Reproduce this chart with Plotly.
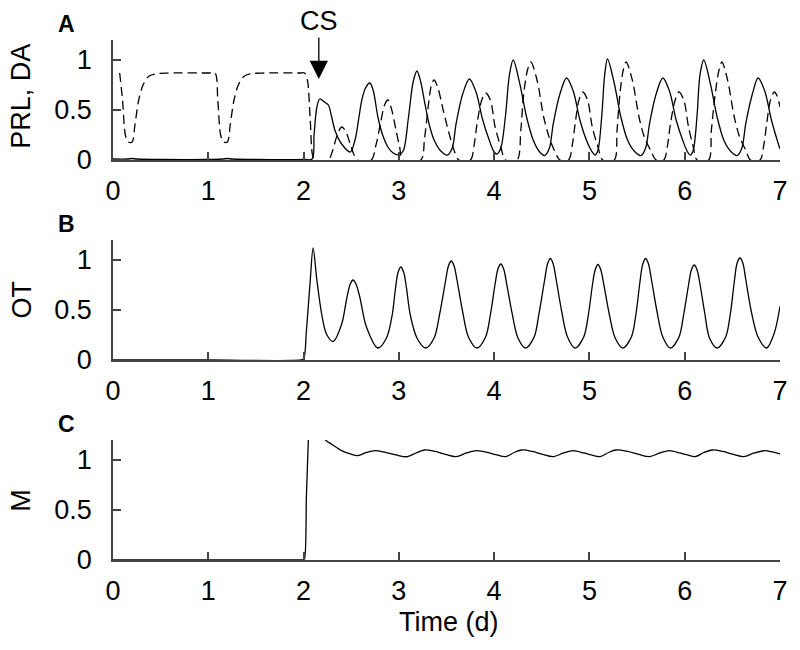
"""
Three stacked time courses: PRL/DA (A), OT (B) and M (C) over 7 days,
with the CS onset marked by an arrow in panel A.
"""

import plotly.graph_objects as go

# ---- data (time in days) ----
prl_t = [0.0, 0.15, 0.2, 0.25, 0.5, 1.0, 1.15, 1.2, 1.25, 1.5, 2.0, 2.09,
         2.11, 2.14, 2.17, 2.22, 2.26, 2.295, 2.33, 2.40, 2.49,
         2.54, 2.58, 2.61, 2.65, 2.695, 2.73, 2.78, 2.83, 2.885, 2.94, 3.01,
         3.05, 3.10, 3.15, 3.19, 3.23, 3.27, 3.32, 3.37, 3.44, 3.51,
         3.56, 3.60, 3.67, 3.74, 3.81, 3.88, 3.95, 4.00, 4.03,
         4.07, 4.12, 4.16, 4.20, 4.27, 4.34, 4.41, 4.47, 4.53,
         4.58, 4.62, 4.69, 4.76, 4.83, 4.90, 4.97, 5.03, 5.06,
         5.09, 5.13, 5.16, 5.19, 5.26, 5.33, 5.40, 5.47, 5.54,
         5.59, 5.63, 5.70, 5.77, 5.84, 5.91, 5.98, 6.03, 6.06,
         6.09, 6.13, 6.16, 6.20, 6.27, 6.34, 6.41, 6.48, 6.55,
         6.60, 6.64, 6.71, 6.77, 6.84, 6.91, 6.97, 7.0]
prl_v = [0.01, 0.01, 0.015, 0.01, 0.005, 0.005, 0.01, 0.015, 0.01, 0.005, 0.005, 0.01,
         0.25, 0.53, 0.61, 0.58, 0.55, 0.43, 0.295, 0.16, 0.08,
         0.20, 0.42, 0.595, 0.72, 0.77, 0.70, 0.43, 0.25, 0.13, 0.07, 0.055,
         0.10, 0.42, 0.78, 0.89, 0.78, 0.58, 0.35, 0.20, 0.09, 0.05,
         0.12, 0.36, 0.66, 0.81, 0.68, 0.40, 0.195, 0.08, 0.06,
         0.12, 0.45, 0.85, 1.0, 0.76, 0.43, 0.20, 0.09, 0.045,
         0.12, 0.36, 0.66, 0.82, 0.69, 0.40, 0.195, 0.08, 0.05,
         0.10, 0.45, 0.85, 1.01, 0.77, 0.43, 0.20, 0.09, 0.045,
         0.12, 0.36, 0.66, 0.82, 0.69, 0.40, 0.195, 0.08, 0.05,
         0.10, 0.45, 0.85, 1.0, 0.76, 0.43, 0.20, 0.09, 0.045,
         0.12, 0.36, 0.66, 0.82, 0.69, 0.40, 0.20, 0.11]

da_t = [0.07, 0.10, 0.13, 0.16, 0.20, 0.23, 0.27, 0.32, 0.38, 0.47, 0.6, 1.0,
        1.07, 1.10, 1.13, 1.16, 1.20, 1.23, 1.27, 1.32, 1.38, 1.47, 1.6, 1.96,
        2.01, 2.04, 2.07, 2.10, 2.13,
        2.26, 2.30, 2.35, 2.40, 2.44, 2.49, 2.53, 2.56,
        2.71, 2.76, 2.81, 2.85, 2.885, 2.92, 2.97, 3.01, 3.04,
        3.23, 3.27, 3.31, 3.34, 3.37, 3.41, 3.47, 3.54, 3.59, 3.63,
        3.75, 3.79, 3.82, 3.87, 3.91, 3.96, 4.01, 4.07, 4.12,
        4.24, 4.28, 4.31, 4.35, 4.385, 4.45, 4.52, 4.58, 4.63, 4.69,
        4.78, 4.82, 4.85, 4.89, 4.93, 4.98, 5.03, 5.09, 5.14,
        5.26, 5.29, 5.32, 5.355, 5.385, 5.45, 5.52, 5.58, 5.64, 5.70,
        5.78, 5.82, 5.85, 5.90, 5.94, 5.99, 6.04, 6.09, 6.13,
        6.25, 6.28, 6.32, 6.36, 6.39, 6.45, 6.52, 6.58, 6.64, 6.69,
        6.79, 6.83, 6.86, 6.90, 6.94, 6.97, 7.0]
da_v = [0.87, 0.60, 0.25, 0.18, 0.18, 0.35, 0.60, 0.76, 0.84, 0.865, 0.87, 0.87,
        0.87, 0.60, 0.25, 0.18, 0.18, 0.35, 0.60, 0.76, 0.84, 0.865, 0.87, 0.87,
        0.87, 0.80, 0.40, 0.03, 0.0,
        0.0, 0.08, 0.24, 0.33, 0.29, 0.16, 0.05, 0.0,
        0.0, 0.15, 0.38, 0.55, 0.60, 0.52, 0.30, 0.12, 0.0,
        0.0, 0.22, 0.55, 0.74, 0.80, 0.72, 0.48, 0.22, 0.07, 0.0,
        0.0, 0.15, 0.36, 0.60, 0.67, 0.60, 0.33, 0.13, 0.0,
        0.0, 0.30, 0.66, 0.90, 0.98, 0.80, 0.43, 0.22, 0.10, 0.0,
        0.0, 0.15, 0.36, 0.60, 0.68, 0.60, 0.33, 0.13, 0.0,
        0.0, 0.30, 0.66, 0.90, 0.98, 0.80, 0.43, 0.22, 0.10, 0.0,
        0.0, 0.15, 0.36, 0.60, 0.68, 0.60, 0.33, 0.13, 0.0,
        0.0, 0.30, 0.66, 0.90, 0.98, 0.80, 0.43, 0.22, 0.10, 0.0,
        0.0, 0.15, 0.36, 0.60, 0.68, 0.64, 0.53]

ot_t = [0.0, 1.0, 1.97, 2.0, 2.03, 2.07, 2.10, 2.14, 2.19, 2.24, 2.31,
        2.40, 2.45, 2.49, 2.52, 2.55, 2.59, 2.66, 2.78,
        2.87, 2.93, 2.96, 2.99, 3.02, 3.05, 3.08, 3.12, 3.19, 3.28,
        3.37, 3.43, 3.49, 3.52, 3.55, 3.58, 3.61, 3.67, 3.73, 3.82,
        3.91, 3.96, 4.01, 4.04, 4.07, 4.10, 4.13, 4.19, 4.25, 4.33,
        4.42, 4.47, 4.53, 4.56, 4.59, 4.62, 4.65, 4.71, 4.77, 4.85,
        4.94, 4.99, 5.03, 5.06, 5.09, 5.12, 5.15, 5.21, 5.27, 5.35,
        5.44, 5.49, 5.53, 5.56, 5.59, 5.62, 5.65, 5.71, 5.77, 5.85,
        5.94, 5.99, 6.04, 6.07, 6.10, 6.13, 6.16, 6.21, 6.26, 6.34,
        6.43, 6.48, 6.52, 6.55, 6.58, 6.61, 6.64, 6.70, 6.77, 6.86,
        6.94, 7.0]
ot_v = [0.0, 0.0, 0.0, 0.01, 0.295, 0.795, 1.12, 0.795, 0.46, 0.26, 0.185,
        0.36, 0.60, 0.76, 0.80, 0.76, 0.63, 0.33, 0.12,
        0.22, 0.45, 0.68, 0.87, 0.93, 0.88, 0.72, 0.45, 0.22, 0.12,
        0.22, 0.47, 0.79, 0.94, 0.99, 0.94, 0.80, 0.48, 0.23, 0.12,
        0.23, 0.45, 0.76, 0.91, 0.96, 0.91, 0.77, 0.46, 0.22, 0.12,
        0.23, 0.46, 0.80, 0.96, 1.015, 0.96, 0.81, 0.48, 0.23, 0.12,
        0.23, 0.46, 0.74, 0.90, 0.955, 0.90, 0.76, 0.45, 0.22, 0.12,
        0.23, 0.47, 0.78, 0.96, 1.015, 0.96, 0.81, 0.48, 0.23, 0.12,
        0.23, 0.46, 0.75, 0.90, 0.95, 0.90, 0.76, 0.47, 0.22, 0.12,
        0.23, 0.47, 0.78, 0.97, 1.02, 0.97, 0.81, 0.48, 0.23, 0.12,
        0.27, 0.535]

m_t = [0.0, 1.0, 1.995, 2.007, 2.03, 2.05, 2.065, 2.14, 2.23, 2.30, 2.40, 2.49, 2.57,
       2.66, 2.75, 2.86, 2.97, 3.09, 3.18, 3.27, 3.38, 3.49, 3.60,
       3.71, 3.82, 3.95, 4.03, 4.12, 4.21, 4.29, 4.40, 4.51, 4.62,
       4.73, 4.83, 4.94, 5.02, 5.11, 5.20, 5.28, 5.40, 5.52, 5.63,
       5.74, 5.84, 5.95, 6.03, 6.11, 6.20, 6.29, 6.40, 6.51, 6.62,
       6.73, 6.84, 6.92, 7.0]
m_v = [0.0, 0.0, 0.0, 0.0, 0.64, 1.2, 1.55, 1.36, 1.2, 1.155, 1.093, 1.06, 1.043,
       1.075, 1.093, 1.075, 1.05, 1.033, 1.07, 1.10, 1.085, 1.055, 1.033,
       1.07, 1.093, 1.07, 1.05, 1.033, 1.075, 1.10, 1.085, 1.055, 1.033,
       1.07, 1.093, 1.07, 1.05, 1.033, 1.075, 1.10, 1.085, 1.055, 1.033,
       1.07, 1.093, 1.07, 1.05, 1.033, 1.075, 1.10, 1.085, 1.055, 1.033,
       1.07, 1.093, 1.08, 1.06]

x_ticks = [0, 1, 2, 3, 4, 5, 6, 7]
y_ticks = [0, 0.5, 1]
y_tick_text = ["0", "0.5", "1"]
cs_time = 2.16
cs_level = 0.81

FONT = "Liberation Sans, Arial, Helvetica, sans-serif"
AXIS_COLOR = "#444444"
TEXT_SIZE = 27


def _line(x, y, xa, ya, dash=None):
    return go.Scatter(
        x=x, y=y, xaxis=xa, yaxis=ya, mode="lines",
        line=dict(color="black", width=1.3, dash=dash, shape="spline", smoothing=0.9),
        showlegend=False, hoverinfo="skip",
    )


def _xaxis(anchor):
    return dict(
        anchor=anchor, domain=[0, 1], range=[0, 7], tickvals=x_ticks,
        showline=True, linecolor=AXIS_COLOR, linewidth=1.5, mirror=False,
        ticks="inside", ticklen=8, tickwidth=1.5, tickcolor=AXIS_COLOR,
        showgrid=False, zeroline=False, ticklabelstandoff=6,
        tickfont=dict(family=FONT, size=TEXT_SIZE, color="black"),
    )


def _yaxis(anchor, domain):
    return dict(
        anchor=anchor, domain=domain, range=[0, 1.2],
        tickvals=y_ticks, ticktext=y_tick_text,
        showline=True, linecolor=AXIS_COLOR, linewidth=1.5,
        ticks="inside", ticklen=8, tickwidth=1.5, tickcolor=AXIS_COLOR,
        showgrid=False, zeroline=False, ticklabelstandoff=14,
        tickfont=dict(family=FONT, size=TEXT_SIZE, color="black"),
    )


fig = go.Figure()
fig.add_trace(_line(prl_t, prl_v, "x", "y"))
fig.add_trace(_line(da_t, da_v, "x", "y", dash="9px,5px"))
fig.add_trace(_line(ot_t, ot_v, "x2", "y2"))
fig.add_trace(_line(m_t, m_v, "x3", "y3"))


def _text(txt, x, y, size=TEXT_SIZE, bold=False, angle=0):
    return dict(
        text=f"<b>{txt}</b>" if bold else txt, x=x, y=y, xref="paper", yref="paper",
        xanchor="center", yanchor="middle", showarrow=False, textangle=angle,
        font=dict(family=FONT, size=size, color="black"),
    )


annotations = [
    _text("A", -0.070, 1.031, size=23, bold=True),
    _text("B", -0.070, 0.646, size=23, bold=True),
    _text("C", -0.070, 0.262, size=23, bold=True),
    _text("PRL, DA", -0.137, 0.892, angle=-90),
    _text("OT", -0.137, 0.5, angle=-90),
    _text("M", -0.137, 0.115, angle=-90),
    _text("Time (d)", 0.503, -0.119),
    dict(
        text="CS", x=cs_time, y=cs_level, xref="x", yref="y",
        showarrow=True, ax=0, ay=-58, arrowhead=2, arrowsize=2.8,
        arrowwidth=1.3, arrowcolor="black", standoff=0,
        font=dict(family=FONT, size=TEXT_SIZE, color="black"),
    ),
]

fig.update_layout(
    width=800, height=650,
    margin=dict(l=113, r=15, t=40, b=90),
    paper_bgcolor="white", plot_bgcolor="white",
    xaxis=_xaxis("y"), xaxis2=_xaxis("y2"), xaxis3=_xaxis("y3"),
    yaxis=_yaxis("x", [0.7692, 1.0]),
    yaxis2=_yaxis("x2", [0.3846, 0.6154]),
    yaxis3=_yaxis("x3", [0.0, 0.2308]),
    annotations=annotations,
)

# drop the default page margin so the 800x650 figure fills the window exactly
fig.write_html(
    "out.html",
    config={"displayModeBar": False},
    post_script="document.body.style.margin = '0';",
)
